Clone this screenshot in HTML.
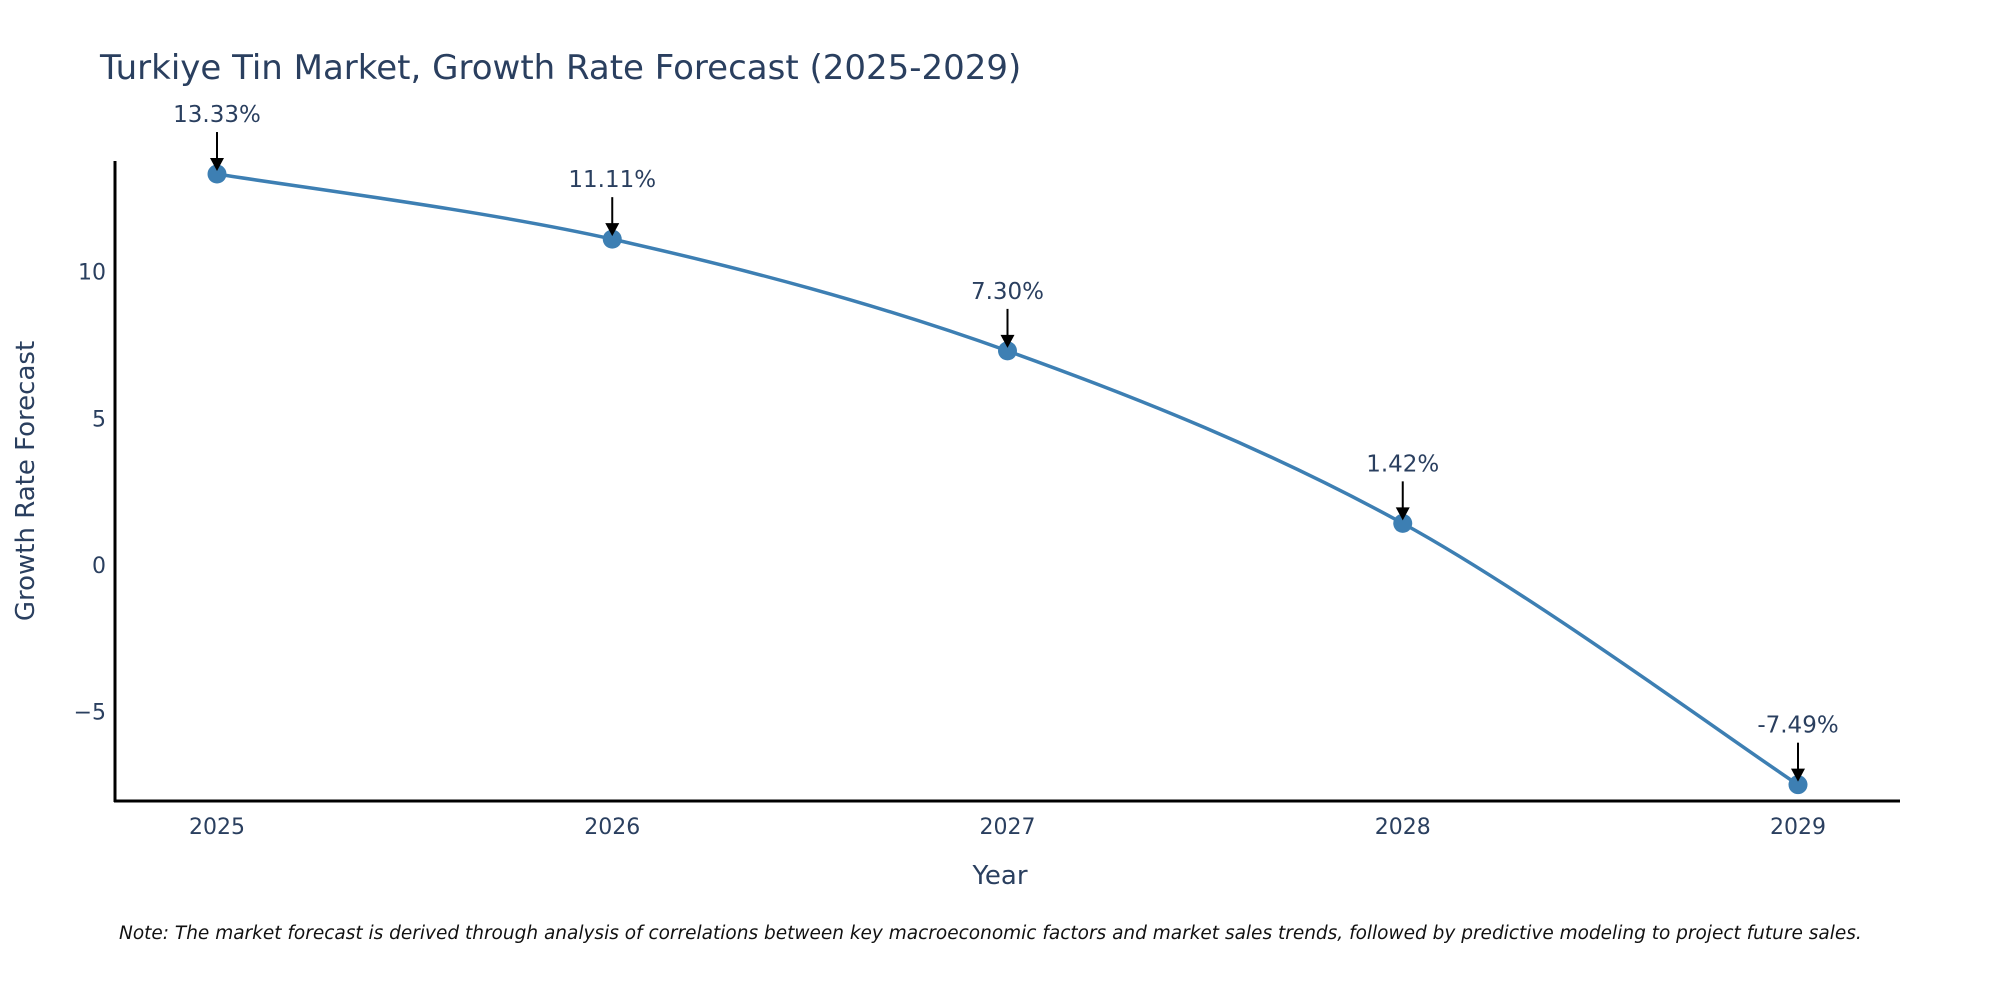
<!DOCTYPE html>
<html><head><meta charset="utf-8"><style>
body{margin:0;background:#fff;}
svg text{font-family:"DejaVu Sans","Liberation Sans",sans-serif;fill:#2a3f5f;}
</style></head><body>
<svg width="2000" height="1000" xmlns="http://www.w3.org/2000/svg">
<text x="100" y="79" font-size="34">Turkiye Tin Market, Growth Rate Forecast (2025-2029)</text>
<g id="axes"></g>
<g id="plot"></g>
<text x="1000" y="884" font-size="26" text-anchor="middle">Year</text>
<text transform="translate(34,481) rotate(-90)" font-size="26" text-anchor="middle">Growth Rate Forecast</text>
<text x="119" y="939" font-size="18.5" font-style="italic" style="fill:#111">Note: The market forecast is derived through analysis of correlations between key macroeconomic factors and market sales trends, followed by predictive modeling to project future sales.</text>
</svg>
<script>
const years=[2025,2026,2027,2028,2029];
const growth=[13.33,11.11,7.30,1.42,-7.49];
const labels=["13.33%","11.11%","7.30%","1.42%","-7.49%"];
const yTicks=[-5,0,5,10];
const yTickLabels=["\u22125","0","5","10"];
const NS="http://www.w3.org/2000/svg";
const X=v=>217+(v-2025)*(1798-217)/4;
const Y=v=>565-v*29.33;
function mk(t,a,p){const e=document.createElementNS(NS,t);for(const k in a)e.setAttribute(k,a[k]);p.appendChild(e);return e;}
const axes=document.getElementById('axes'),plot=document.getElementById('plot');
const yl=mk('line',{x1:115,y1:161,x2:115,y2:802,stroke:'#000','stroke-width':3},axes);


const xl=mk('line',{x1:114,y1:801,x2:1900,y2:801,stroke:'#000','stroke-width':3},axes);


yTicks.forEach((t,i)=>{const e=mk('text',{x:106,y:Y(t)+8,'font-size':22,'text-anchor':'end'},axes);e.textContent=yTickLabels[i];

});
years.forEach(yv=>{const e=mk('text',{x:X(yv),y:834,'font-size':22,'text-anchor':'middle'},axes);e.textContent=yv;

});
const pts=years.map((yv,i)=>[X(yv),Y(growth[i])]);
let d=`M${pts[0][0]},${pts[0][1]}`;
for(let i=0;i<pts.length-1;i++){const p0=pts[Math.max(0,i-1)],p1=pts[i],p2=pts[i+1],p3=pts[Math.min(pts.length-1,i+2)];
const c1=[p1[0]+(p2[0]-p0[0])/6,p1[1]+(p2[1]-p0[1])/6],c2=[p2[0]-(p3[0]-p1[0])/6,p2[1]-(p3[1]-p1[1])/6];
d+=` C${c1[0]},${c1[1]} ${c2[0]},${c2[1]} ${p2[0]},${p2[1]}`;}
const line=mk('path',{d:d,fill:'none',stroke:'#3d7fb3','stroke-width':3.5},plot);


pts.forEach((p,i)=>{const c=mk('circle',{cx:p[0],cy:p[1],r:9.5,fill:'#3d7fb3'},plot);


const a=mk('line',{x1:p[0],y1:p[1]-42,x2:p[0],y2:p[1]-14,stroke:'#000','stroke-width':2},plot);


const h=mk('polygon',{points:`${p[0]-7},${p[1]-16} ${p[0]+7},${p[1]-16} ${p[0]},${p[1]-3}`,fill:'#000'},plot);


const t=mk('text',{x:p[0],y:p[1]-52,'font-size':23,'text-anchor':'middle'},plot);t.textContent=labels[i];

});
</script>
</body></html>
